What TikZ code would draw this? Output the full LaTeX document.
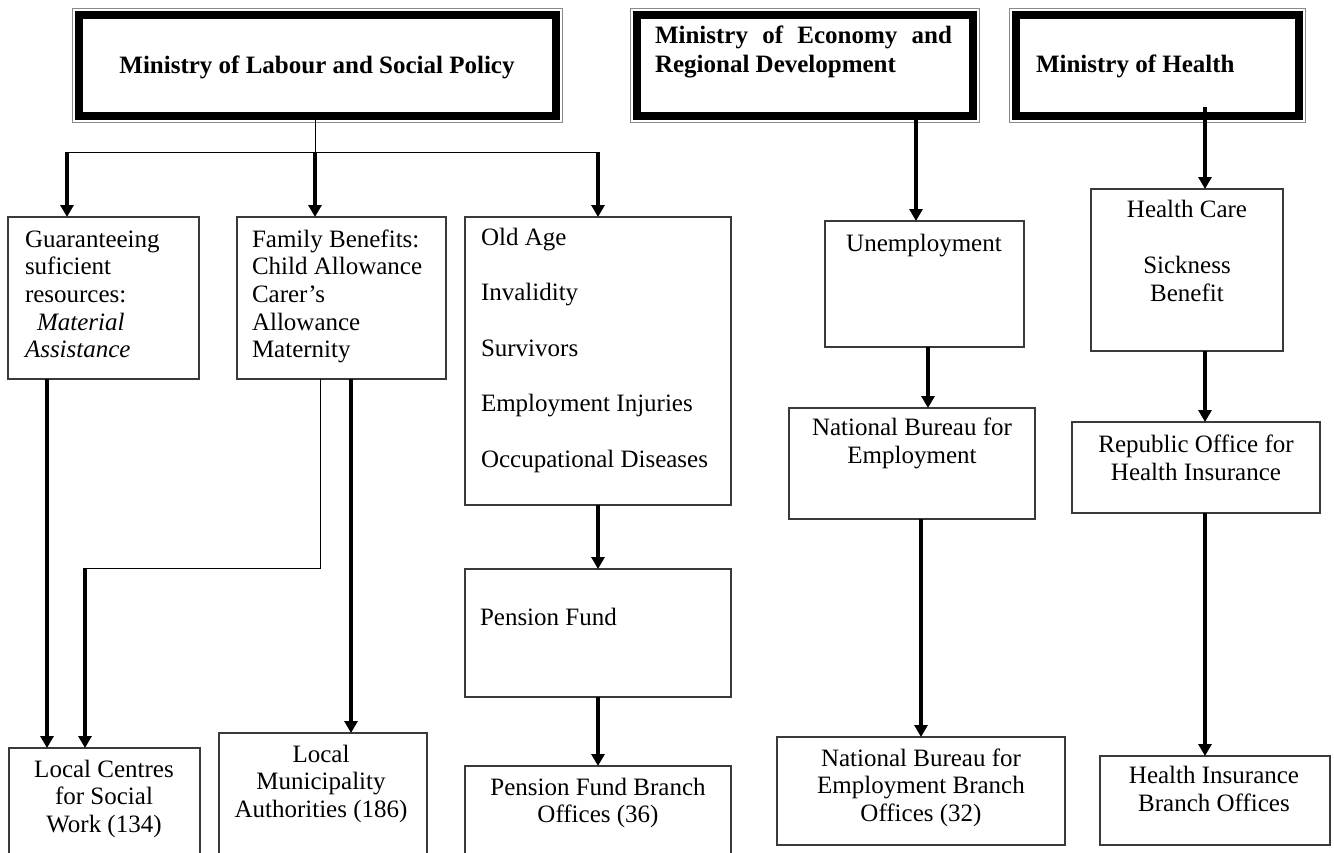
\documentclass[tikz,border=0pt]{standalone}
\usepackage{fontspec}
\setmainfont{Liberation Serif}
\usetikzlibrary{arrows.meta,calc,fit}
\definecolor{boxgray}{HTML}{3A3A3A}
\definecolor{framegray}{HTML}{8A8A8A}
\tikzset{
  every node/.style={inner sep=0pt, outer sep=0pt},
  mini/.style={draw=black, line width=7.5pt, inner sep=0pt},
  framering/.style={draw=framegray, line width=1pt},
  box/.style={draw=boxgray, line width=1.4pt, inner sep=0pt},
  txt/.style={font=\fontsize{25}{27.7}\selectfont, align=left},
  wtxt/.style={font=\fontsize{25}{55.5}\selectfont, align=left},
  ctxt/.style={font=\fontsize{25}{27.7}\selectfont, align=center},
  btxt/.style={font=\fontsize{25}{29}\selectfont\bfseries, align=left},
  arr/.style={draw=black, line width=3.2pt, -{Triangle[length=12pt,width=13pt]}},
  thinline/.style={draw=black, line width=1pt},
}
\begin{document}
\begin{tikzpicture}[x=1pt,y=-1pt]
\useasboundingbox (0,0) rectangle (1334,852);
\clip (0,0) rectangle (1334,852);
\fill[white] (0,0) rectangle (1334,852);

% ministries
\node[mini, fit={(79,15) (556,116)}] (lab) {};
\draw[framering] ($(lab.north west)+(-6.5,-6.5)$) rectangle ($(lab.south east)+(6.5,6.5)$);
\node[mini, fit={(637,15) (973,116)}] (eco) {};
\draw[framering] ($(eco.north west)+(-6.5,-6.5)$) rectangle ($(eco.south east)+(6.5,6.5)$);
\node[mini, fit={(1016,15) (1299,116)}] (hea) {};
\draw[framering] ($(hea.north west)+(-6.5,-6.5)$) rectangle ($(hea.south east)+(6.5,6.5)$);

% (multi-line nodes: base anchor = baseline of last line)
\node[btxt, anchor=base] (labt) at (317,73) {Ministry of Labour and Social Policy};
\node[btxt, anchor=base west] (ecot) at (655,72) {\makebox[297pt][s]{Ministry of Economy and}\\Regional Development};
\node[btxt, anchor=base west] (heat) at (1036,72) {Ministry of Health};

% boxes
\node[box, fit={(8,217) (199,379)}] (ga) {};
\node[box, fit={(237,217) (446,379)}] (fb) {};
\node[box, fit={(465,217) (731,505)}] (oa) {};
\node[box, fit={(825,221) (1024,347)}] (un) {};
\node[box, fit={(1091,189) (1283,351)}] (hc) {};
\node[box, fit={(789,408) (1035,519)}] (nb) {};
\node[box, fit={(1072,422) (1320,513)}] (ro) {};
\node[box, fit={(465,569) (731,697)}] (pf) {};
\node[box, fit={(9,748) (200,875)}] (lc) {};
\node[box, fit={(219,733) (427,875)}] (lm) {};
\node[box, fit={(465,766) (731,875)}] (pb) {};
\node[box, fit={(777,737) (1065,845)}] (nbb) {};
\node[box, fit={(1100,756) (1330,845)}] (hib) {};

% texts
\node[txt, anchor=base west] (gat) at (25,357.8) {Guaranteeing\\suficient\\resources:\\\hspace*{12pt}\textit{Material}\\\textit{Assistance}};
\node[txt, anchor=base west] (fbt) at (252,357.8) {Family Benefits:\\Child Allowance\\Carer’s\\Allowance\\Maternity};
\node[wtxt, anchor=base west] (oat) at (481,467) {Old Age\\Invalidity\\Survivors\\Employment Injuries\\Occupational Diseases};
\node[ctxt, anchor=base] (unt) at (924,251) {Unemployment};
\node[ctxt, anchor=base] (hct) at (1187,301) {Health Care\\[27.7pt]Sickness\\Benefit};
\node[ctxt, anchor=base] (nbt) at (912,463) {National Bureau for\\Employment};
\node[ctxt, anchor=base] (rot) at (1196,480) {Republic Office for\\Health Insurance};
\node[txt, anchor=base west] (pft) at (480,625) {Pension Fund};
\node[ctxt, anchor=base] (lct) at (104,832.4) {Local Centres\\for Social\\Work (134)};
\node[ctxt, anchor=base] (lmt) at (321,817.4) {Local\\Municipality\\Authorities (186)};
\node[ctxt, anchor=base] (pbt) at (598,822.7) {Pension Fund Branch\\Offices (36)};
\node[ctxt, anchor=base] (nbbt) at (921,821.4) {National Bureau for\\Employment Branch\\Offices (32)};
\node[ctxt, anchor=base, font=\fontsize{25}{28.5}\selectfont] (hibt) at (1214,811.5) {Health Insurance\\Branch Offices};

% connectors
\coordinate (hl) at (67,152);
\coordinate (hm) at (315,152);
\coordinate (hr) at (598,152);
\coordinate (bend1) at (320,568);
\coordinate (bend2) at (85,568);
\coordinate (hs) at (1205,107);

\draw[thinline] (hm |- lab.south) -- (hm);
\draw[thinline] (hl) -- (hr);
\draw[arr] (hl) -- (hl |- ga.north);
\draw[arr] (hm) -- (hm |- fb.north);
\draw[arr] (hr) -- (oa.north);

\draw[arr] (47,0 |- ga.south) -- (47,0 |- lc.north);
\draw[thinline] (bend1 |- fb.south) -- (bend1) -- (bend2);
\draw[arr] (bend2) -- (bend2 |- lc.north);
\draw[arr] (351,0 |- fb.south) -- (351,0 |- lm.north);
\draw[arr] (oa.south) -- (pf.north);
\draw[arr] (pf.south) -- (pb.north);

\draw[arr] (916,0 |- eco.south) -- (916,0 |- un.north);
\draw[arr] (928,0 |- un.south) -- (928,0 |- nb.north);
\draw[arr] (921,0 |- nb.south) -- (921,0 |- nbb.north);

\draw[arr] (hs) -- (hs |- hc.north);
\draw[arr] (hs |- hc.south) -- (hs |- ro.north);
\draw[arr] (hs |- ro.south) -- (hs |- hib.north);
\end{tikzpicture}
\end{document}
